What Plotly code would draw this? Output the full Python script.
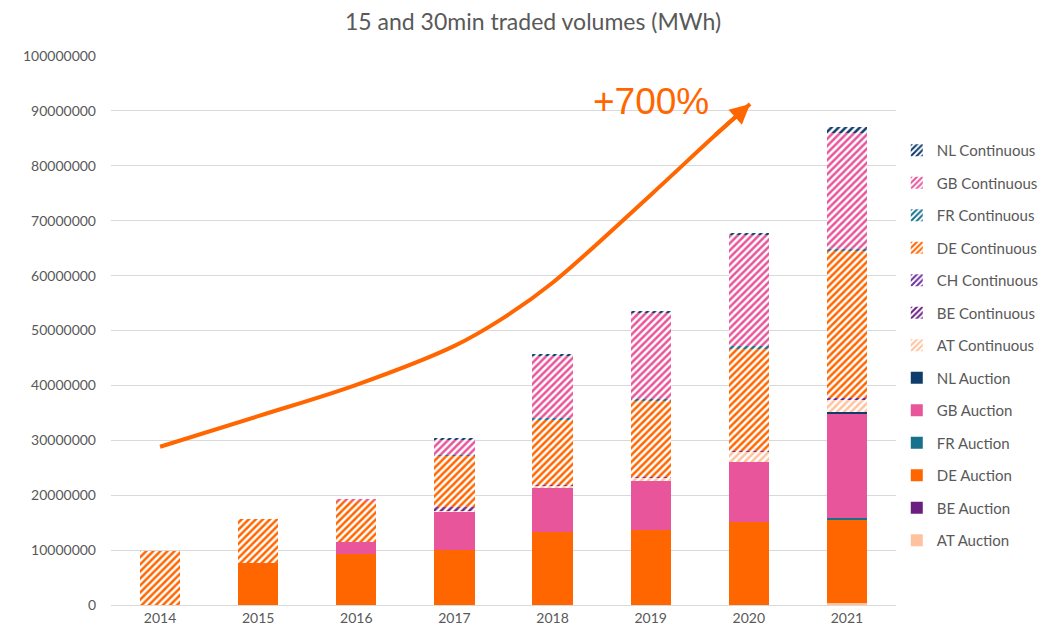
import plotly.graph_objects as go

years = ["2014", "2015", "2016", "2017", "2018", "2019", "2020", "2021"]

# Values in MWh (stack order bottom -> top)
at_auction = [0, 0, 0, 0, 0, 0, 0, 300000]
be_auction = [0, 0, 0, 0, 0, 0, 0, 0]
de_auction = [0, 7600000, 9200000, 10100000, 13300000, 13700000, 15200000, 15200000]
fr_auction = [0, 0, 0, 0, 0, 0, 0, 300000]
gb_auction = [0, 0, 2300000, 6900000, 8000000, 8900000, 10800000, 19000000]
nl_auction = [0, 0, 0, 0, 0, 0, 0, 300000]
at_continuous = [0, 0, 0, 300000, 400000, 600000, 1900000, 2400000]
be_continuous = [0, 0, 0, 300000, 100000, 100000, 100000, 100000]
ch_continuous = [0, 0, 0, 200000, 100000, 100000, 100000, 100000]
de_continuous = [9900000, 8100000, 7500000, 9400000, 11900000, 13800000, 18600000, 26700000]
fr_continuous = [0, 0, 0, 100000, 300000, 300000, 400000, 500000]
gb_continuous = [0, 0, 200000, 2900000, 11400000, 15800000, 20400000, 21000000]
nl_continuous = [0, 0, 0, 100000, 300000, 300000, 300000, 1100000]

# Growth arrow path (category index, MWh)
growth_x = [0, 1.0, 2.0, 3.0, 3.5, 4.0, 5.0, 5.64]
growth_y = [28.83e6, 34.4e6, 40.1e6, 47.2e6, 52.3e6, 58.7e6, 74.7e6, 85.3e6]
arrow_tip = (6.013, 91.26e6)
growth_label = "+700%"
label_pos = (5.0, 91.7e6)
chart_title = "15 and 30min traded volumes (MWh)"

C_NL = "#0E3D6B"
C_GB = "#E8559A"
C_FR = "#17718C"
C_DE = "#FF6600"
C_CH = "#7030A0"
C_BE = "#6A1F80"
C_AT = "#FFC29E"

series = [
    ("AT Auction", at_auction, C_AT, False),
    ("BE Auction", be_auction, C_BE, False),
    ("DE Auction", de_auction, C_DE, False),
    ("FR Auction", fr_auction, C_FR, False),
    ("GB Auction", gb_auction, C_GB, False),
    ("NL Auction", nl_auction, C_NL, False),
    ("AT Continuous", at_continuous, C_AT, True),
    ("BE Continuous", be_continuous, C_BE, True),
    ("CH Continuous", ch_continuous, C_CH, True),
    ("DE Continuous", de_continuous, C_DE, True),
    ("FR Continuous", fr_continuous, C_FR, True),
    ("GB Continuous", gb_continuous, C_GB, True),
    ("NL Continuous", nl_continuous, C_NL, True),
]

W, H = 1038, 629
ML, MR, MT, MB = 103, 150, 48, 32
PH = H - MT - MB
PW = W - ML - MR

xs = list(range(len(years)))
fig = go.Figure()
n = len(series)
for i, (name, vals, color, hatched) in enumerate(series):
    marker = dict(color=color, line=dict(width=0))
    if hatched:
        marker = dict(
            color="white",
            line=dict(width=0),
            pattern=dict(shape="/", fgcolor=color, bgcolor="white", size=5,
                         solidity=0.5, fgopacity=1),
        )
    fig.add_trace(go.Bar(x=xs, y=vals, name=name, marker=marker,
                         legendgroup=name, legendrank=100 + (n - i)))

fig.add_trace(go.Scatter(
    x=growth_x + [arrow_tip[0]], y=growth_y + [arrow_tip[1]], mode="lines",
    line=dict(color="#FF6600", width=4, shape="spline", smoothing=1.0),
    showlegend=False, hoverinfo="skip",
))

fig.add_annotation(
    x=arrow_tip[0], y=arrow_tip[1], ax=growth_x[-1], ay=growth_y[-1],
    xref="x", yref="y", axref="x", ayref="y",
    showarrow=True, arrowhead=2, arrowsize=1.0, arrowwidth=4, arrowcolor="#FF6600", text="",
)
fig.add_annotation(
    x=label_pos[0], y=label_pos[1], xref="x", yref="y", text=growth_label, showarrow=False,
    font=dict(family="Liberation Sans, Arial", size=37, color="#FF6600"),
)
# Chart title
fig.add_annotation(
    x=(525 - ML) / PW, y=1 + (MT + 3) / PH, xref="paper", yref="paper",
    xanchor="center", yanchor="top", text=chart_title, showarrow=False,
    font=dict(family="Lato, Open Sans, sans-serif", size=23, color="#595959"),
)

fig.update_layout(
    width=W, height=H,
    barmode="stack", bargap=0.59,
    plot_bgcolor="white", paper_bgcolor="white",
    margin=dict(l=ML, r=MR, t=MT, b=MB, autoexpand=False),
    font=dict(family="Lato, Open Sans, sans-serif", color="#595959", size=14),
    legend=dict(
        x=1.001, y=0.858, xanchor="left", yanchor="top",
        traceorder="grouped", tracegroupgap=10,
        font=dict(size=15, color="#595959"),
        bgcolor="rgba(0,0,0,0)",
    ),
    showlegend=True,
)
fig.update_xaxes(
    tickmode="array", tickvals=xs, ticktext=years, range=[-0.5, 7.5],
    showgrid=False, showline=True, linecolor="#D9D9D9", linewidth=1, ticks="",
    tickfont=dict(size=14, color="#595959"),
)
fig.update_yaxes(
    range=[0, 100e6], dtick=10e6, tickformat="d",
    showgrid=True, gridcolor="#D9D9D9", gridwidth=1, zeroline=False, showline=False,
    ticks="", ticklen=0, ticklabelstandoff=14, tickfont=dict(size=14, color="#595959"),
)

fig.write_html("out.html")
